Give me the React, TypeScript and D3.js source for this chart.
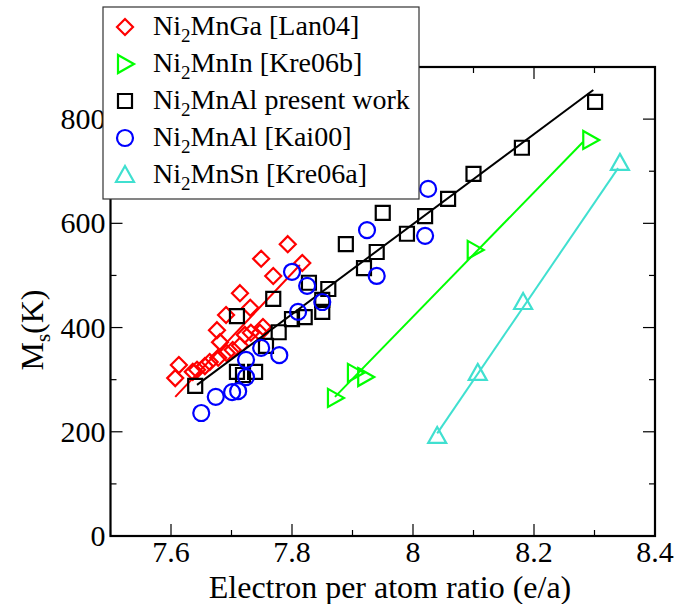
import React from "react";
import * as d3 from "d3";

// Martensitic start temperature Ms vs electron-per-atom ratio for Ni2Mn-based alloys
const gaEa = [7.607, 7.613, 7.636, 7.643, 7.656, 7.664, 7.678, 7.692, 7.702, 7.714, 7.722, 7.732, 7.747, 7.681, 7.676, 7.691, 7.714, 7.731, 7.752, 7.769, 7.749, 7.817, 7.793];
const gaMs = [303, 328, 315, 319, 326, 334, 342, 351, 357, 365, 386, 390, 390, 372, 395, 424, 466, 438, 401, 499, 532, 524, 560];

const inEa = [7.871, 7.904, 7.921, 8.102, 8.293];
const inMs = [265, 313, 305, 549, 760];

const alEa = [7.64, 7.709, 7.719, 7.739, 7.709, 7.769, 7.757, 7.778, 7.8, 7.821, 7.828, 7.85, 7.85, 7.86, 7.889, 7.919, 7.94, 7.95, 7.99, 8.02, 8.058, 8.1, 8.18, 8.301];
const alMs = [288, 315, 309, 315, 422, 455, 365, 391, 416, 420, 486, 430, 453, 474, 560, 514, 545, 620, 580, 614, 647, 695, 745, 833];

const kaiEa = [7.65, 7.674, 7.701, 7.711, 7.724, 7.724, 7.749, 7.779, 7.81, 7.8, 7.825, 7.85, 7.924, 7.94, 8.02, 8.025];
const kaiMs = [236, 267, 276, 278, 305, 338, 361, 347, 430, 507, 480, 449, 587, 499, 576, 666];

const snEa = [8.04, 8.107, 8.182, 8.342];
const snMs = [192, 313, 449, 716];

// Linear fits: [start e/a, end e/a], [start Ms, end Ms]
const gaFitEa = [7.607, 7.813];
const gaFitMs = [267, 520];
const inFitEa = [7.871, 8.281];
const inFitMs = [267, 756];
const alFitEa = [7.643, 8.298];
const alFitMs = [290, 856];
const snFitEa = [8.04, 8.339];
const snFitMs = [197, 706];

const xMajor = [7.6, 7.8, 8.0, 8.2, 8.4];
const xMinor = [7.5, 7.7, 7.9, 8.1, 8.3];
const yMajor = [0, 200, 400, 600, 800];
const yMinor = [100, 300, 500, 700, 900];

const legendNames = ["MnGa [Lan04]", "MnIn [Kre06b]", "MnAl present work", "MnAl [Kai00]", "MnSn [Kre06a]"];

const W = 676;
const H = 604;
const L = 110.5, R = 655, T = 67, B = 536;

const RED = "#ff0000";
const GREEN = "#00ff00";
const BLUE = "#0000ff";
const CYAN = "#40e0d0";
const BLACK = "#000000";

const FONT = "Liberation Serif";

const diamond = "M0,-8L8,0L0,8L-8,0Z";
const square = "M-7,-7L7,-7L7,7L-7,7Z";
const triRight = "M-7,-9L9,0L-7,9Z";
const triUp = "M0,-9L9,7L-9,7Z";

export default function App() {
  const x = d3.scaleLinear().domain([7.5, 8.4]).range([L, R]);
  const y = d3.scaleLinear().domain([0, 900]).range([B, T]);
  const line = d3.line<[number, number]>().x((d) => x(d[0])).y((d) => y(d[1]));

  const fit = (ea: number[], ms: number[], color: string) => (
    <path d={line(ea.map((e, i) => [e, ms[i]]) as [number, number][]) || ""} stroke={color} strokeWidth={2} fill="none" />
  );

  const marks = (ea: number[], ms: number[], shape: string | null, color: string) =>
    ea.map((e, i) =>
      shape ? (
        <path key={i} d={shape} transform={`translate(${x(e)},${y(ms[i])})`} fill="none" stroke={color} strokeWidth={2.2} />
      ) : (
        <circle key={i} cx={x(e)} cy={y(ms[i])} r={8} fill="none" stroke={color} strokeWidth={2.2} />
      )
    );

  const legendShapes: [string | null, string][] = [
    [diamond, RED],
    [triRight, GREEN],
    [square, BLACK],
    [null, BLUE],
    [triUp, CYAN],
  ];

  return (
    <svg width={W} height={H} style={{ position: "absolute", left: 0, top: 0, background: "#fff" }}>
      <rect x={0} y={0} width={W} height={H} fill="#fff" />

      {/* ticks on all four sides, pointing inward */}
      <g stroke={BLACK} strokeWidth={1.2}>
        {xMajor.map((v) => (
          <g key={"xm" + v}>
            <line x1={x(v)} x2={x(v)} y1={B} y2={B - 12} />
            <line x1={x(v)} x2={x(v)} y1={T} y2={T + 12} />
          </g>
        ))}
        {xMinor.map((v) => (
          <g key={"xn" + v}>
            <line x1={x(v)} x2={x(v)} y1={B} y2={B - 6} />
            <line x1={x(v)} x2={x(v)} y1={T} y2={T + 6} />
          </g>
        ))}
        {yMajor.map((v) => (
          <g key={"ym" + v}>
            <line x1={L} x2={L + 12} y1={y(v)} y2={y(v)} />
            <line x1={R} x2={R - 12} y1={y(v)} y2={y(v)} />
          </g>
        ))}
        {yMinor.map((v) => (
          <g key={"yn" + v}>
            <line x1={L} x2={L + 6} y1={y(v)} y2={y(v)} />
            <line x1={R} x2={R - 6} y1={y(v)} y2={y(v)} />
          </g>
        ))}
      </g>
      <rect x={L} y={T} width={R - L} height={B - T} fill="none" stroke={BLACK} strokeWidth={2.2} />

      {/* tick labels */}
      {xMajor.map((v) => (
        <text key={"xl" + v} x={x(v)} y={B + 26} textAnchor="middle" fontSize={30} fontFamily={FONT} fill={BLACK}>
          {d3.format("~g")(v)}
        </text>
      ))}
      {yMajor.map((v) => (
        <text key={"yl" + v} x={L - 5} y={y(v) + 10} textAnchor="end" fontSize={30} fontFamily={FONT} fill={BLACK}>
          {v}
        </text>
      ))}

      {/* axis titles */}
      <text x={390} y={598} textAnchor="middle" fontSize={32} fontFamily={FONT} fill={BLACK}>
        Electron per atom ratio (e/a)
      </text>
      <text transform="translate(43,330) rotate(-90)" textAnchor="middle" fontSize={32} fontFamily={FONT} fill={BLACK}>
        M<tspan fontSize={21} dy={7}>s</tspan>
        <tspan dy={-7}>(K)</tspan>
      </text>

      {/* data */}
      {marks(gaEa, gaMs, diamond, RED)}
      {fit(gaFitEa, gaFitMs, RED)}
      {marks(inEa, inMs, triRight, GREEN)}
      {fit(inFitEa, inFitMs, GREEN)}
      {marks(alEa, alMs, square, BLACK)}
      {fit(alFitEa, alFitMs, BLACK)}
      {marks(kaiEa, kaiMs, null, BLUE)}
      {marks(snEa, snMs, triUp, CYAN)}
      {fit(snFitEa, snFitMs, CYAN)}

      {/* legend */}
      <rect x={103} y={7} width={316} height={192} fill="#fff" stroke="#333" strokeWidth={1.2} />
      {legendNames.map((name, i) => {
        const cy = 27 + i * 37;
        const [shape, color] = legendShapes[i];
        return (
          <g key={name}>
            {shape ? (
              <path d={shape} transform={`translate(125,${cy})`} fill="none" stroke={color} strokeWidth={2.2} />
            ) : (
              <circle cx={125} cy={cy} r={8} fill="none" stroke={color} strokeWidth={2.2} />
            )}
            <text x={153} y={cy + 8} fontSize={28} fontFamily={FONT} fill={BLACK}>
              Ni<tspan fontSize={19} dy={7}>2</tspan>
              <tspan dy={-7}>{name}</tspan>
            </text>
          </g>
        );
      })}
    </svg>
  );
}
